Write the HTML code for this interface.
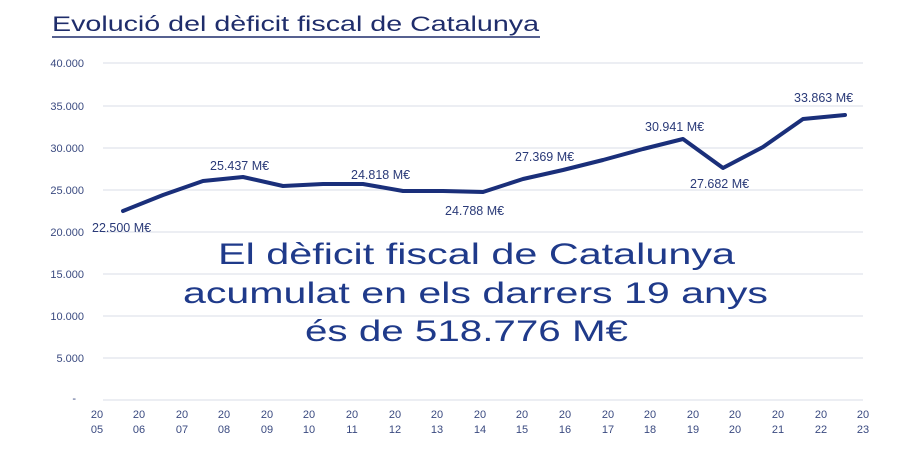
<!DOCTYPE html>
<html><head><meta charset="utf-8"><style>
html,body{margin:0;padding:0;background:#fff;width:900px;height:449px;overflow:hidden}
svg{display:block;font-family:"Liberation Sans",sans-serif}
</style></head><body>
<svg width="900" height="449" viewBox="0 0 900 449">
<text x="52" y="31" font-size="21" fill="#1f2d6b" textLength="487" lengthAdjust="spacingAndGlyphs">Evolució del dèficit fiscal de Catalunya</text>
<line x1="52" y1="37" x2="540" y2="37" stroke="#1f2d6b" stroke-width="1.5"/>
<g stroke="#e6e8ef" stroke-width="1.5">
<line x1="103" y1="63" x2="863" y2="63"/><line x1="103" y1="106" x2="863" y2="106"/>
<line x1="103" y1="148" x2="863" y2="148"/><line x1="103" y1="190" x2="863" y2="190"/>
<line x1="103" y1="232" x2="863" y2="232"/><line x1="103" y1="274" x2="863" y2="274"/>
<line x1="103" y1="316" x2="863" y2="316"/><line x1="103" y1="358" x2="863" y2="358"/>
<line x1="103" y1="400" x2="863" y2="400"/>
</g>
<g font-size="11" fill="#3a4a80" text-anchor="end">
<text x="84" y="67">40.000</text><text x="84" y="110">35.000</text><text x="84" y="152">30.000</text>
<text x="84" y="194">25.000</text><text x="84" y="236">20.000</text><text x="84" y="278">15.000</text>
<text x="84" y="320">10.000</text><text x="84" y="362">5.000</text><text x="76" y="402">-</text>
</g>
<polyline fill="none" stroke="#1a2f7a" stroke-width="4" stroke-linejoin="round" stroke-linecap="round"
points="123,211 163,195 203,181 243,177 283,186 323,184 363,184 403,191 443,191 483,192 523,179 563,170 603,160 643,149 683,139 723,168 763,147 803,119 845,115"/>
<g font-size="12.5" fill="#2a3a78">
<text x="92" y="232">22.500 M€</text><text x="210" y="170">25.437 M€</text>
<text x="351" y="179">24.818 M€</text><text x="445" y="215">24.788 M€</text>
<text x="515" y="161">27.369 M€</text><text x="645" y="131">30.941 M€</text>
<text x="690" y="188">27.682 M€</text><text x="794" y="102">33.863 M€</text>
</g>
<g font-size="30" fill="#1f3a8a">
<text x="218" y="264" textLength="517" lengthAdjust="spacingAndGlyphs">El dèficit fiscal de Catalunya</text>
<text x="183" y="303" textLength="585" lengthAdjust="spacingAndGlyphs">acumulat en els darrers 19 anys</text>
<text x="305" y="341" textLength="323" lengthAdjust="spacingAndGlyphs">és de 518.776 M€</text>
</g>
<g font-size="11" fill="#3a4a80" text-anchor="middle">
<text x="97" y="418">20</text><text x="97" y="433">05</text>
<text x="139" y="418">20</text><text x="139" y="433">06</text>
<text x="182" y="418">20</text><text x="182" y="433">07</text>
<text x="224" y="418">20</text><text x="224" y="433">08</text>
<text x="267" y="418">20</text><text x="267" y="433">09</text>
<text x="309" y="418">20</text><text x="309" y="433">10</text>
<text x="352" y="418">20</text><text x="352" y="433">11</text>
<text x="395" y="418">20</text><text x="395" y="433">12</text>
<text x="437" y="418">20</text><text x="437" y="433">13</text>
<text x="480" y="418">20</text><text x="480" y="433">14</text>
<text x="522" y="418">20</text><text x="522" y="433">15</text>
<text x="565" y="418">20</text><text x="565" y="433">16</text>
<text x="608" y="418">20</text><text x="608" y="433">17</text>
<text x="650" y="418">20</text><text x="650" y="433">18</text>
<text x="693" y="418">20</text><text x="693" y="433">19</text>
<text x="735" y="418">20</text><text x="735" y="433">20</text>
<text x="778" y="418">20</text><text x="778" y="433">21</text>
<text x="821" y="418">20</text><text x="821" y="433">22</text>
<text x="863" y="418">20</text><text x="863" y="433">23</text>
</g>
</svg>
</body></html>
